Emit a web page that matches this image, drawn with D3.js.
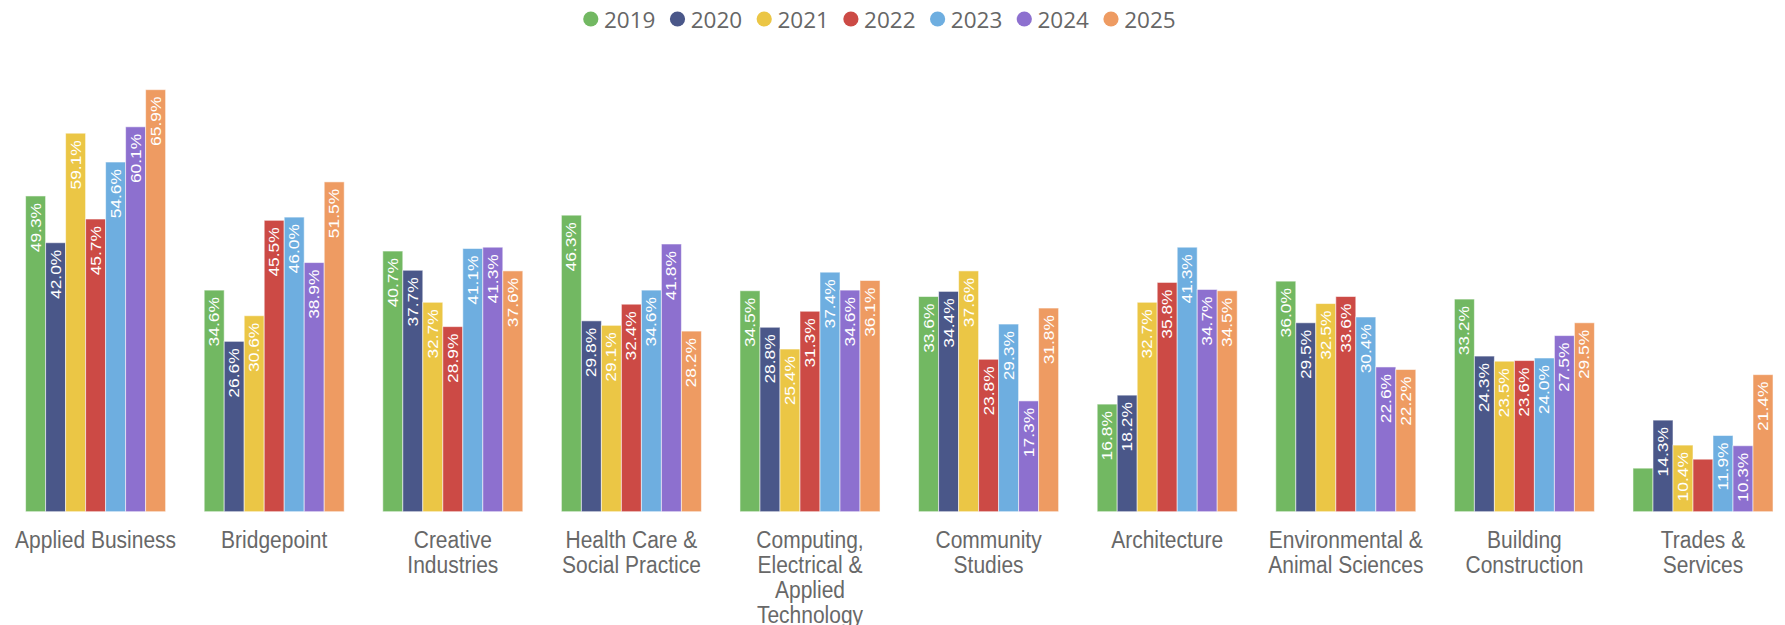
<!DOCTYPE html>
<html>
<head>
<meta charset="utf-8">
<script src="https://cdn.jsdelivr.net/npm/d3@7"></script>
<style>
  html, body { margin: 0; padding: 0; background: #fff; }
  svg { display: block; }
</style>
</head>
<body>
<svg id="chart" width="1785" height="625"></svg>
<script>
// Faculty groups (line breaks mark where each axis label wraps)
const categories = [
  "Applied Business",
  "Bridgepoint",
  "Creative\nIndustries",
  "Health Care &\nSocial Practice",
  "Computing,\nElectrical &\nApplied\nTechnology",
  "Community\nStudies",
  "Architecture",
  "Environmental &\nAnimal Sciences",
  "Building\nConstruction",
  "Trades &\nServices"
];

const years = ["2019", "2020", "2021", "2022", "2023", "2024", "2025"];

// Percentage per year, one value per category
const v2019 = [49.3, 34.6, 40.7, 46.3, 34.5, 33.6, 16.8, 36.0, 33.2, 6.8];
const v2020 = [42.0, 26.6, 37.7, 29.8, 28.8, 34.4, 18.2, 29.5, 24.3, 14.3];
const v2021 = [59.1, 30.6, 32.7, 29.1, 25.4, 37.6, 32.7, 32.5, 23.5, 10.4];
const v2022 = [45.7, 45.5, 28.9, 32.4, 31.3, 23.8, 35.8, 33.6, 23.6, 8.2];
const v2023 = [54.6, 46.0, 41.1, 34.6, 37.4, 29.3, 41.3, 30.4, 24.0, 11.9];
const v2024 = [60.1, 38.9, 41.3, 41.8, 34.6, 17.3, 34.7, 22.6, 27.5, 10.3];
const v2025 = [65.9, 51.5, 37.6, 28.2, 36.1, 31.8, 34.5, 22.2, 29.5, 21.4];

const seriesValues = [v2019, v2020, v2021, v2022, v2023, v2024, v2025];
const colors = ["#72b862", "#4a5789", "#ebc645", "#cc4a45", "#6eaee0", "#8d70cf", "#ee9b62"];

const yMax = 70;

const svg = d3.select("#chart");

// Scales
const x0 = d3.scaleBand()
  .domain(categories)
  .range([6.3, 1792.3])
  .paddingInner(0.216)
  .paddingOuter(0.108);

const x1 = d3.scaleBand()
  .domain(years)
  .range([0, x0.bandwidth()])
  .padding(0);

const y = d3.scaleLinear()
  .domain([0, yMax])
  .range([511.7, 63.4]);

const fmt = v => v.toFixed(1) + "%";

// Bars
const groups = svg.append("g")
  .selectAll("g")
  .data(categories)
  .join("g")
  .attr("transform", d => `translate(${x0(d)},0)`);

const cells = groups.selectAll("g.cell")
  .data((c, ci) => years.map((yr, si) => ({ year: yr, si, value: seriesValues[si][ci] })))
  .join("g")
  .attr("class", "cell");

cells.append("rect")
  .attr("x", d => x1(d.year))
  .attr("y", d => y(d.value))
  .attr("width", x1.bandwidth())
  .attr("height", d => y(0) - y(d.value))
  .attr("fill", d => colors[d.si])
  .attr("stroke", "rgba(255,255,255,0.55)")
  .attr("stroke-width", 1);

// Value labels, rotated and placed at the top inside each bar;
// labels that do not fit inside their bar are dropped
const labelStretch = 1.2;
cells.append("text")
  .attr("transform", d =>
    `translate(${x1(d.year) + x1.bandwidth() / 2 + 5},${y(d.value) + 7}) rotate(-90) scale(${labelStretch},1)`)
  .attr("text-anchor", "end")
  .attr("font-family", "Liberation Sans, Arial, sans-serif")
  .attr("font-size", 14.5)
  .attr("fill", "#ffffff")
  .text(d => fmt(d.value))
  .each(function(d) {
    const len = this.getComputedTextLength() * labelStretch;
    if (len + 14 > y(0) - y(d.value)) d3.select(this).remove();
  });

// Category axis
const xAxis = svg.append("g")
  .attr("transform", `translate(0,${y(0)})`)
  .call(d3.axisBottom(x0).tickSize(0).tickFormat(""));
xAxis.select(".domain").remove();

const catStretch = 1.1;
xAxis.selectAll(".tick").each(function(d) {
  const t = d3.select(this).append("text")
    .attr("transform", `translate(0,36.6) scale(1,${catStretch})`)
    .attr("text-anchor", "middle")
    .attr("font-family", "Liberation Sans, Arial, sans-serif")
    .attr("font-size", 21)
    .attr("fill", "#686868");
  d.split("\n").forEach((line, i) => {
    t.append("tspan")
      .attr("x", 0)
      .attr("dy", i === 0 ? 0 : 25 / catStretch)
      .text(line);
  });
});

// Legend
const legend = svg.append("g")
  .attr("transform", "translate(583,0)");
const item = legend.selectAll("g")
  .data(years)
  .join("g")
  .attr("transform", (d, i) => `translate(${i * 86.7},0)`);
item.append("circle")
  .attr("cx", 7.8)
  .attr("cy", 19)
  .attr("r", 7.6)
  .attr("fill", (d, i) => colors[i]);
item.append("text")
  .attr("x", 21)
  .attr("y", 28.3)
  .attr("font-family", "Open Sans, sans-serif")
  .attr("font-size", 22.5)
  .attr("fill", "#666666")
  .text(d => d);
</script>
</body>
</html>
